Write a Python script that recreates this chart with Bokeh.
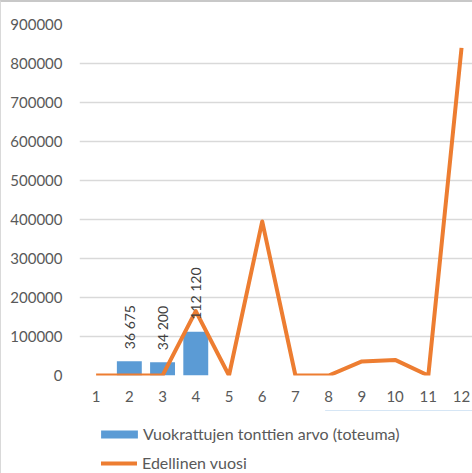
from bokeh.plotting import figure
from bokeh.layouts import column
from bokeh.models import Range1d, FixedTicker, ColumnDataSource, Legend, LegendItem, NumeralTickFormatter
from bokeh.core.properties import value
from bokeh.embed import file_html
from bokeh.resources import INLINE
import math

months = [1, 2, 3, 4, 5, 6, 7, 8, 9, 10, 11, 12]
toteuma = [0, 36675, 34200, 112120, 0, 0, 0, 0, 0, 0, 0, 0]
edellinen = [0, 0, 0, 165000, 0, 395000, 0, 0, 36000, 40000, 0, 840000]
y_ticks = [0, 100000, 200000, 300000, 400000, 500000, 600000, 700000, 800000, 900000]
bar_label_x = [2, 3, 4]
bar_label_y = [36675, 34200, 112120]
bar_label_text = ["36 675", "34 200", "112 120"]
series_names = ["Vuokrattujen tonttien arvo (toteuma)", "Edellinen vuosi"]

FONT = "Lato"
GRAY = "#595959"
BLUE = "#5B9BD5"
ORANGE = "#ED7D31"

p = figure(width=471, height=408, output_backend="svg", toolbar_location=None,
           x_range=Range1d(0.5, 12.33), y_range=Range1d(0, 900000),
           min_border_left=78, min_border_top=22, min_border_right=0, min_border_bottom=35)
p.outline_line_color = None
p.background_fill_color = "white"
p.border_fill_color = "white"

p.vbar(x=months, top=toteuma, width=0.75, fill_color=BLUE, line_color=None)
p.line(x=months, y=edellinen, line_color=ORANGE, line_width=4, line_join="round")

lbl = ColumnDataSource(dict(x=bar_label_x, y=bar_label_y, t=bar_label_text))
p.text(x="x", y="y", text="t", source=lbl, angle=math.pi / 2, text_align="left",
       text_baseline="middle", y_offset=-12, text_font=value(FONT),
       text_font_size="14px", text_color="#404040")

p.xgrid.grid_line_color = None
p.ygrid.grid_line_color = "#D9D9D9"
p.ygrid.grid_line_width = 1.3
p.ygrid.ticker = FixedTicker(ticks=y_ticks)

p.yaxis.ticker = FixedTicker(ticks=y_ticks)
p.yaxis.formatter = NumeralTickFormatter(format="0")
p.xaxis.ticker = FixedTicker(ticks=months)
for ax in (p.xaxis, p.yaxis):
    ax.axis_line_color = None
    ax.major_tick_line_color = None
    ax.minor_tick_line_color = None
    ax.major_tick_out = 0
    ax.major_tick_in = 0
    ax.minor_tick_out = 0
    ax.major_label_text_font = FONT
    ax.major_label_text_font_size = "15px"
    ax.major_label_text_color = GRAY
p.yaxis.major_label_standoff = 17
p.xaxis.major_label_standoff = 15

# legend panel below the chart (renderers lie outside its visible range)
q = figure(width=471, height=63, output_backend="svg", toolbar_location=None,
           x_range=Range1d(0, 1), y_range=Range1d(-2, -1),
           x_axis_location=None, y_axis_location=None,
           min_border_left=0, min_border_top=0, min_border_right=0, min_border_bottom=0)
q.grid.visible = False
q.outline_line_color = None
q.border_fill_color = "white"
q.background_fill_color = "white"
lb = q.vbar(x=months, top=toteuma, width=0.75, fill_color=BLUE, line_color=None)
ll = q.line(x=months, y=edellinen, line_color=ORANGE, line_width=4, line_cap="round")

def make_legend(item, gw, gh, loc, standoff):
    lg = Legend(items=[item], orientation="vertical")
    lg.border_line_color = None
    lg.background_fill_alpha = 0
    lg.label_text_font = FONT
    lg.label_text_font_size = "16px"
    lg.label_text_color = GRAY
    lg.glyph_width = gw
    lg.glyph_height = gh
    lg.label_height = 16
    lg.label_standoff = standoff
    lg.padding = 0
    lg.margin = 0
    lg.location = loc
    return lg

# the column aligns this frame with the chart frame (left edge at 79 px)
q.add_layout(make_legend(LegendItem(label=series_names[0], renderers=[lb]), 46, 10, (17, 30), 1), "center")
q.add_layout(make_legend(LegendItem(label=series_names[1], renderers=[ll]), 36, 10, (22, 1), 5), "center")

layout = column(p, q, spacing=0,
                styles={"border-top": "2px solid #C8C8C8", "border-left": "1px solid #D9D9D9"})
open("out.html", "w").write(file_html(layout, INLINE))
